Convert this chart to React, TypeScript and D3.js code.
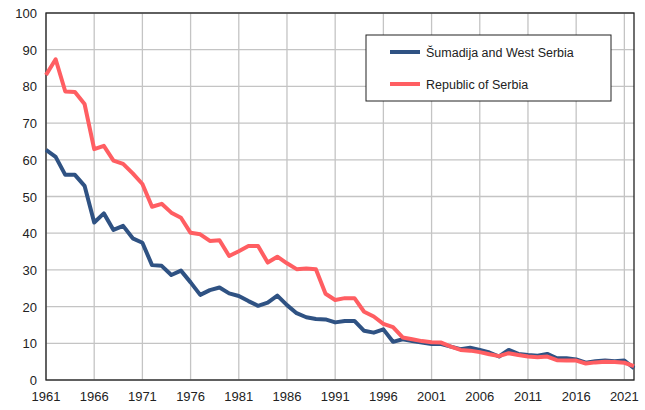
import React from "react";
import * as d3 from "d3";

const years: number[] = d3.range(1961, 2023);
const sumadija: number[] = [
  62.7, 60.8, 55.9, 55.9, 52.9, 42.9, 45.4, 40.9, 42.0, 38.6,
  37.4, 31.3, 31.1, 28.6, 29.8, 26.6, 23.2, 24.5, 25.2, 23.6,
  22.9, 21.5, 20.2, 21.1, 23.0, 20.4, 18.2, 17.1, 16.6, 16.5,
  15.7, 16.1, 16.1, 13.4, 12.9, 13.8, 10.4, 11.1, 10.6, 10.2,
  9.8, 9.8, 9.1, 8.4, 8.8, 8.2, 7.5, 6.4, 8.2, 7.1,
  6.8, 6.6, 7.1, 5.9, 5.9, 5.6, 4.7, 5.1, 5.3, 5.1,
  5.3, 3.2,
];
const serbia: number[] = [
  83.1, 87.4, 78.6, 78.5, 75.2, 62.9, 63.8, 59.8, 58.9, 56.3,
  53.4, 47.2, 48.0, 45.6, 44.2, 40.1, 39.7, 37.9, 38.1, 33.8,
  35.1, 36.5, 36.5, 32.0, 33.6, 31.8, 30.2, 30.4, 30.2, 23.5,
  21.8, 22.3, 22.3, 18.6, 17.3, 15.3, 14.4, 11.6, 11.1, 10.6,
  10.3, 10.2, 9.1, 8.2, 8.0, 7.6, 7.0, 6.5, 7.3, 6.8,
  6.4, 6.2, 6.4, 5.4, 5.3, 5.3, 4.5, 4.8, 5.0, 4.9,
  4.7, 3.8,
];
const yTicks: number[] = [0, 10, 20, 30, 40, 50, 60, 70, 80, 90, 100];
const xTicks: number[] = d3.range(1961, 2022, 5);
const seriesNames: string[] = ["Šumadija and West Serbia", "Republic of Serbia"];
const seriesColors: string[] = ["#2f5283", "#ff5e62"];

export default function App() {
  const W = 645, H = 410;
  const left = 46, right = 634, top = 13, bottom = 380;
  const x = d3.scaleLinear().domain([1961, 2022]).range([left, right]);
  const y = d3.scaleLinear().domain([0, 100]).range([bottom, top]);
  const line = d3.line<[number, number]>().x(d => x(d[0])).y(d => y(d[1]));
  const data = [sumadija, serbia];
  const font = "'Liberation Sans', Arial, sans-serif";
  return (
    <svg width={W} height={H} style={{ position: "absolute", left: 0, top: 0 }} fontFamily={font}>
      <rect x={0} y={0} width={W} height={H} fill="#fff" />
      {yTicks.map(t => (
        <line key={"gy" + t} x1={left} x2={right} y1={y(t)} y2={y(t)} stroke="#c4c4c4" strokeWidth={1.3} />
      ))}
      {xTicks.map(t => (
        <line key={"gx" + t} x1={x(t)} x2={x(t)} y1={top} y2={bottom} stroke="#c4c4c4" strokeWidth={1.3} />
      ))}
      <rect x={left} y={top} width={right - left} height={bottom - top} fill="none" stroke="#222" strokeWidth={1.3} />
      {yTicks.map(t => (
        <text key={"ty" + t} x={37} y={y(t) + 5} textAnchor="end" fontSize={13} fill="#222">{t}</text>
      ))}
      {xTicks.map(t => (
        <text key={"tx" + t} x={x(t)} y={401} textAnchor="middle" fontSize={13} fill="#222">{t}</text>
      ))}
      {data.map((s, i) => (
        <path key={"l" + i}
          d={line(years.map((yr, j) => [yr, s[j]] as [number, number])) || ""}
          fill="none" stroke={seriesColors[i]} strokeWidth={4} strokeLinejoin="round" />
      ))}
      <rect x={366} y={35} width={245} height={66} fill="#fff" stroke="#222" strokeWidth={1} />
      {seriesNames.map((n, i) => (
        <g key={"lg" + i}>
          <line x1={390} x2={420} y1={52 + i * 32} y2={52 + i * 32} stroke={seriesColors[i]} strokeWidth={4} />
          <text x={426} y={57 + i * 32} fontSize={12.5} fill="#222">{n}</text>
        </g>
      ))}
    </svg>
  );
}
